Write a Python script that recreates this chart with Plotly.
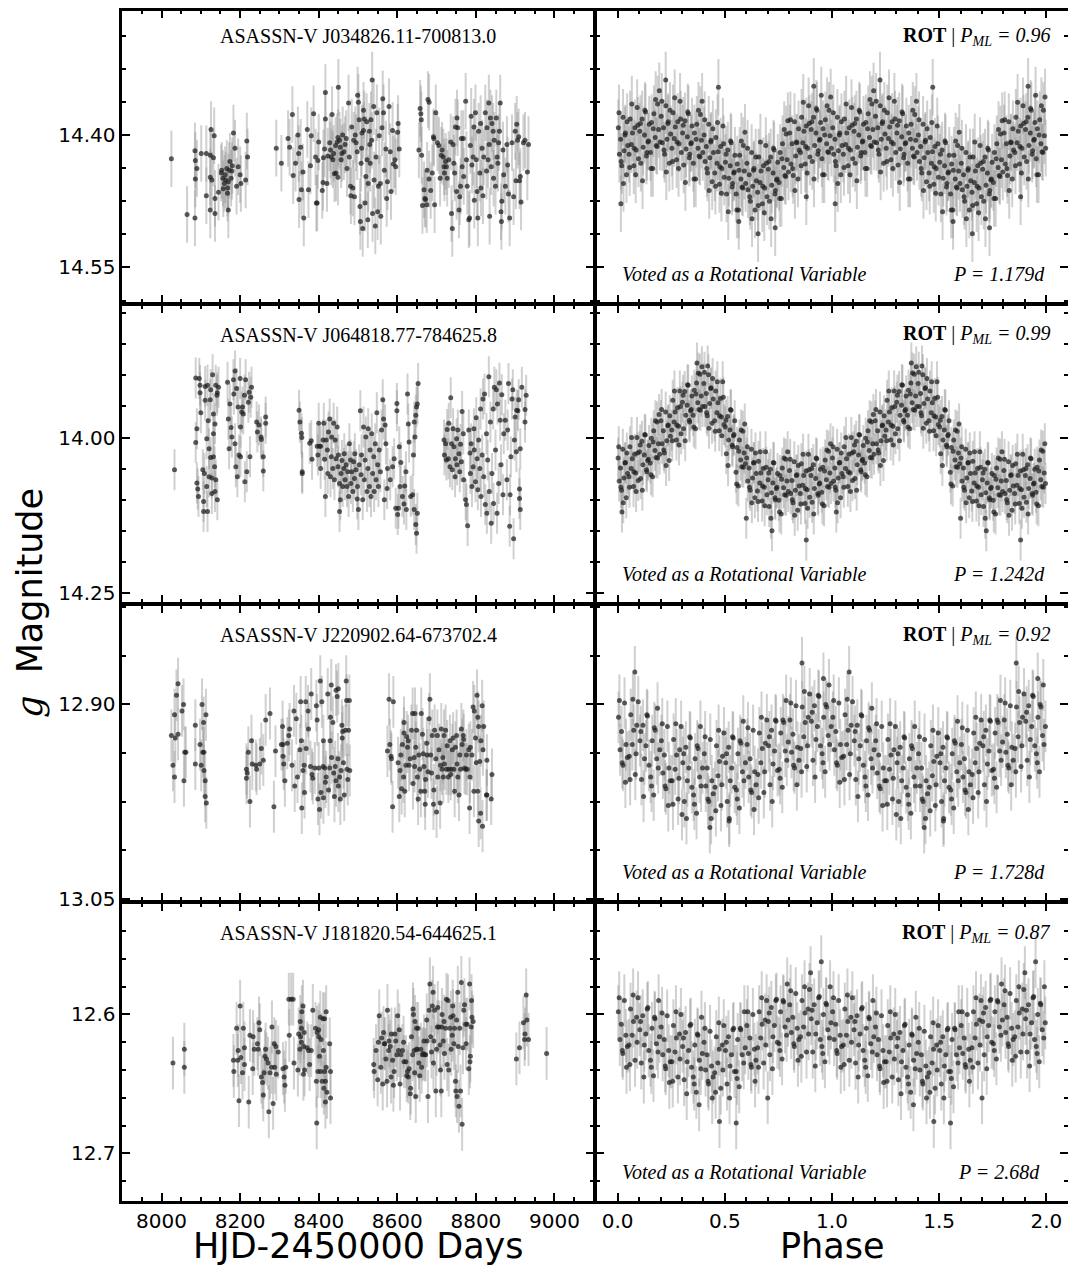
import plotly.graph_objects as go

# page offset: the HTML body has an 8px margin, so the figure is drawn 8px in
OFF = 8
W, H = 1076 - OFF, 1270 - OFF

# ---------------- Row 1 : ASASSN-V J034826.11-700813.0 ----------------
T1 = [8025, 8065, 8085, 8085, 8086, 8086, 8090, 8101, 8114, 8114,
      8124, 8124, 8124, 8126, 8128, 8132, 8134, 8136, 8136, 8145,
      8153, 8156, 8157, 8162, 8166, 8168, 8170, 8170, 8174, 8179,
      8183, 8187, 8191, 8195, 8200, 8202, 8214, 8217, 8219, 8152,
      8160, 8172, 8177, 8180, 8163, 8168,
      8292, 8305, 8322, 8326, 8333, 8335, 8341, 8347, 8349, 8350,
      8354, 8356, 8360, 8362, 8371, 8374, 8379, 8381, 8387, 8392,
      8394, 8396, 8398, 8400, 8409, 8411, 8412, 8415, 8417, 8417,
      8421, 8423, 8428, 8432, 8434, 8438, 8440, 8443, 8444, 8447,
      8449, 8450, 8453, 8455, 8457, 8461, 8464, 8467, 8472, 8476,
      8478, 8481, 8482, 8484, 8487, 8491, 8493, 8495, 8499, 8501,
      8503, 8505, 8506, 8508, 8509, 8510, 8512, 8514, 8516, 8518,
      8520, 8522, 8525, 8526, 8529, 8530, 8531, 8533, 8536, 8537,
      8540, 8541, 8544, 8546, 8548, 8550, 8552, 8554, 8557, 8558,
      8561, 8563, 8565, 8567, 8571, 8573, 8575, 8579, 8582, 8584,
      8588, 8590, 8594, 8596, 8601, 8602, 8605,
      8430, 8436, 8449, 8459, 8470, 8489, 8498, 8514, 8523, 8535,
      8655, 8658, 8660, 8661, 8662, 8664, 8668, 8670, 8672, 8675,
      8676, 8678, 8681, 8681, 8685, 8689, 8692, 8693, 8695, 8698,
      8702, 8706, 8709, 8712, 8714, 8717, 8719, 8720, 8723, 8725,
      8727, 8731, 8736, 8738, 8740, 8742, 8744, 8746, 8748, 8751,
      8752, 8754, 8757, 8759, 8761, 8763, 8765, 8768, 8769, 8774,
      8776, 8778, 8782, 8784, 8786, 8788, 8790, 8793, 8795, 8796,
      8799, 8801, 8803, 8805, 8807, 8810, 8812, 8813, 8816, 8818,
      8820, 8824, 8827, 8828, 8831, 8833, 8834, 8835, 8837, 8839,
      8841, 8844, 8845, 8847, 8850, 8852, 8854, 8856, 8858, 8860,
      8862, 8864, 8865, 8866, 8869, 8871, 8875, 8879, 8881, 8883,
      8886, 8892, 8896, 8900, 8902, 8904, 8906, 8909, 8911, 8913,
      8915, 8921, 8925, 8931, 8934]
M1 = [14.427, 14.490, 14.494, 14.418, 14.429, 14.450, 14.438, 14.421, 14.421, 14.469,
      14.423, 14.448, 14.485, 14.394, 14.451, 14.426, 14.401, 14.472, 14.489, 14.465,
      14.440, 14.449, 14.461, 14.445, 14.438, 14.466, 14.485, 14.453, 14.430, 14.441,
      14.398, 14.415, 14.458, 14.436, 14.445, 14.455, 14.451, 14.407, 14.425, 14.443,
      14.455, 14.440, 14.449, 14.435, 14.451, 14.460,
      14.415, 14.432, 14.404, 14.414, 14.377, 14.446, 14.432, 14.400, 14.421, 14.473,
      14.414, 14.462, 14.442, 14.494, 14.394, 14.462, 14.435, 14.401, 14.376, 14.425,
      14.477, 14.477, 14.429, 14.408, 14.463, 14.454, 14.426, 14.416, 14.352, 14.382,
      14.455, 14.424, 14.409, 14.425, 14.377, 14.421, 14.444, 14.412, 14.443, 14.408,
      14.448, 14.346, 14.406, 14.414, 14.428, 14.400, 14.419, 14.411, 14.438, 14.364,
      14.425, 14.458, 14.469, 14.391, 14.460, 14.470, 14.400, 14.409, 14.355, 14.363,
      14.383, 14.481, 14.498, 14.432, 14.415, 14.398, 14.506, 14.372, 14.382, 14.477,
      14.447, 14.385, 14.496, 14.455, 14.396, 14.411, 14.432, 14.383, 14.338, 14.489,
      14.368, 14.451, 14.503, 14.425, 14.375, 14.487, 14.458, 14.401, 14.455, 14.492,
      14.392, 14.359, 14.375, 14.440, 14.416, 14.472, 14.453, 14.368, 14.419, 14.464,
      14.395, 14.433, 14.428, 14.436, 14.397, 14.387, 14.416,
      14.417, 14.428, 14.403, 14.421, 14.404, 14.406, 14.419, 14.395, 14.428, 14.406,
      14.417, 14.370, 14.376, 14.383, 14.423, 14.480, 14.462, 14.472, 14.473, 14.479,
      14.440, 14.360, 14.363, 14.450, 14.463, 14.443, 14.402, 14.404, 14.479, 14.375,
      14.409, 14.412, 14.449, 14.423, 14.417, 14.425, 14.436, 14.443, 14.430, 14.436,
      14.449, 14.428, 14.408, 14.489, 14.506, 14.411, 14.432, 14.443, 14.391, 14.464,
      14.381, 14.392, 14.485, 14.470, 14.458, 14.404, 14.436, 14.404, 14.447, 14.362,
      14.428, 14.458, 14.496, 14.494, 14.412, 14.379, 14.434, 14.425, 14.391, 14.474,
      14.375, 14.428, 14.464, 14.494, 14.396, 14.443, 14.387, 14.460, 14.415, 14.469,
      14.425, 14.375, 14.441, 14.392, 14.428, 14.364, 14.411, 14.492, 14.381, 14.436,
      14.387, 14.396, 14.449, 14.406, 14.458, 14.381, 14.425, 14.432, 14.409, 14.396,
      14.364, 14.487, 14.498, 14.475, 14.417, 14.445, 14.458, 14.411, 14.434, 14.467,
      14.494, 14.409, 14.470, 14.396, 14.452, 14.388, 14.406, 14.402, 14.452, 14.447,
      14.476, 14.409, 14.406, 14.442, 14.411]
PH1 = [0.003, 0.008, 0.014, 0.019, 0.025, 0.030, 0.036, 0.041, 0.047,
       0.053, 0.058, 0.064, 0.069, 0.075, 0.080, 0.086, 0.091, 0.097,
       0.103, 0.108, 0.114, 0.119, 0.125, 0.130, 0.136, 0.141, 0.147,
       0.153, 0.158, 0.164, 0.169, 0.175, 0.180, 0.186, 0.191, 0.197,
       0.203, 0.208, 0.214, 0.219, 0.225, 0.230, 0.236, 0.241, 0.247,
       0.253, 0.258, 0.264, 0.269, 0.275, 0.280, 0.286, 0.291, 0.297,
       0.303, 0.308, 0.314, 0.319, 0.325, 0.330, 0.336, 0.341, 0.347,
       0.353, 0.358, 0.364, 0.369, 0.375, 0.380, 0.386, 0.391, 0.397,
       0.403, 0.408, 0.414, 0.419, 0.425, 0.430, 0.436, 0.441, 0.447,
       0.453, 0.458, 0.464, 0.469, 0.475, 0.480, 0.486, 0.491, 0.497,
       0.503, 0.508, 0.514, 0.519, 0.525, 0.530, 0.536, 0.541, 0.547,
       0.553, 0.558, 0.564, 0.569, 0.575, 0.580, 0.586, 0.591, 0.597,
       0.603, 0.608, 0.614, 0.619, 0.625, 0.630, 0.636, 0.641, 0.647,
       0.653, 0.658, 0.664, 0.669, 0.675, 0.680, 0.686, 0.691, 0.697,
       0.703, 0.708, 0.714, 0.719, 0.725, 0.730, 0.736, 0.741, 0.747,
       0.753, 0.758, 0.764, 0.769, 0.775, 0.780, 0.786, 0.791, 0.797,
       0.803, 0.808, 0.814, 0.819, 0.825, 0.830, 0.836, 0.841, 0.847,
       0.853, 0.858, 0.864, 0.869, 0.875, 0.880, 0.886, 0.891, 0.897,
       0.903, 0.908, 0.914, 0.919, 0.925, 0.930, 0.936, 0.941, 0.947,
       0.953, 0.958, 0.964, 0.969, 0.975, 0.980, 0.986, 0.991, 0.997,
       0.224, 0.470, 0.915, 0.950, 0.655, 0.735, 0.015, 0.565, 0.880,
       0.006, 0.016, 0.027, 0.034, 0.044, 0.056, 0.066, 0.077, 0.084, 0.094,
       0.106, 0.116, 0.127, 0.134, 0.144, 0.156, 0.166, 0.177, 0.184, 0.194,
       0.206, 0.216, 0.227, 0.234, 0.244, 0.256, 0.266, 0.277, 0.284, 0.294,
       0.306, 0.316, 0.327, 0.334, 0.344, 0.356, 0.366, 0.377, 0.384, 0.394,
       0.406, 0.416, 0.427, 0.434, 0.444, 0.456, 0.466, 0.477, 0.484, 0.494,
       0.506, 0.516, 0.527, 0.534, 0.544, 0.556, 0.566, 0.577, 0.584, 0.594,
       0.606, 0.616, 0.627, 0.634, 0.644, 0.656, 0.666, 0.677, 0.684, 0.694,
       0.706, 0.716, 0.727, 0.734, 0.744, 0.756, 0.766, 0.777, 0.784, 0.794,
       0.806, 0.816, 0.827, 0.834, 0.844, 0.856, 0.866, 0.877, 0.884, 0.894,
       0.906, 0.916, 0.927, 0.934, 0.944, 0.956, 0.966, 0.977, 0.984, 0.994]
PM1 = [14.392, 14.422, 14.405, 14.435, 14.380, 14.418, 14.398, 14.445, 14.412,
       14.422, 14.382, 14.411, 14.398, 14.435, 14.392, 14.417, 14.369, 14.427,
       14.396, 14.432, 14.382, 14.414, 14.400, 14.374, 14.420, 14.408, 14.388,
       14.420, 14.386, 14.438, 14.376, 14.403, 14.412, 14.365, 14.394, 14.408,
       14.379, 14.409, 14.392, 14.422, 14.367, 14.405, 14.385, 14.432, 14.399,
       14.415, 14.375, 14.404, 14.391, 14.428, 14.385, 14.410, 14.362, 14.420,
       14.398, 14.434, 14.384, 14.416, 14.402, 14.376, 14.422, 14.410, 14.390,
       14.432, 14.398, 14.450, 14.388, 14.415, 14.424, 14.377, 14.406, 14.420,
       14.400, 14.430, 14.413, 14.443, 14.388, 14.426, 14.406, 14.453, 14.420,
       14.443, 14.403, 14.432, 14.419, 14.456, 14.413, 14.438, 14.390, 14.448,
       14.431, 14.467, 14.417, 14.449, 14.435, 14.409, 14.455, 14.443, 14.423,
       14.467, 14.433, 14.485, 14.423, 14.450, 14.459, 14.412, 14.441, 14.455,
       14.432, 14.462, 14.445, 14.475, 14.420, 14.458, 14.438, 14.485, 14.452,
       14.465, 14.425, 14.454, 14.441, 14.478, 14.435, 14.460, 14.412, 14.470,
       14.439, 14.475, 14.425, 14.457, 14.443, 14.417, 14.463, 14.451, 14.431,
       14.454, 14.420, 14.472, 14.410, 14.437, 14.446, 14.399, 14.428, 14.442,
       14.398, 14.433, 14.410, 14.446, 14.385, 14.424, 14.409, 14.450, 14.417,
       14.420, 14.380, 14.409, 14.396, 14.433, 14.390, 14.415, 14.367, 14.425,
       14.394, 14.430, 14.380, 14.412, 14.398, 14.372, 14.418, 14.406, 14.386,
       14.427, 14.393, 14.445, 14.383, 14.410, 14.419, 14.372, 14.401, 14.415,
       14.338, 14.346, 14.345, 14.355, 14.512, 14.505, 14.478, 14.498, 14.470,
       14.375, 14.430, 14.455, 14.400, 14.385, 14.437, 14.365, 14.415, 14.445, 14.389,
       14.387, 14.452, 14.372, 14.424, 14.407, 14.438, 14.393, 14.360, 14.413, 14.350,
       14.362, 14.417, 14.442, 14.387, 14.372, 14.430, 14.358, 14.408, 14.438, 14.382,
       14.389, 14.454, 14.374, 14.426, 14.409, 14.450, 14.405, 14.372, 14.425, 14.362,
       14.383, 14.438, 14.463, 14.408, 14.393, 14.458, 14.386, 14.436, 14.466, 14.410,
       14.422, 14.487, 14.407, 14.459, 14.442, 14.485, 14.440, 14.407, 14.460, 14.397,
       14.415, 14.470, 14.495, 14.440, 14.425, 14.480, 14.408, 14.458, 14.488, 14.432,
       14.430, 14.495, 14.415, 14.467, 14.450, 14.472, 14.427, 14.394, 14.447, 14.384,
       14.383, 14.438, 14.463, 14.408, 14.393, 14.435, 14.363, 14.413, 14.443, 14.387,
       14.385, 14.450, 14.370, 14.422, 14.405, 14.445, 14.400, 14.367, 14.420, 14.357]

# ---------------- Row 2 : ASASSN-V J064818.77-784625.8 ----------------
T2 = [8033, 8087, 8090, 8087, 8090, 8092, 8094, 8096, 8098, 8098,
      8100, 8105, 8107, 8107, 8109, 8111, 8111, 8115, 8115, 8117,
      8117, 8119, 8121, 8121, 8124, 8125, 8125, 8128, 8128, 8130,
      8132, 8132, 8132, 8135, 8136, 8136, 8138, 8138, 8141, 8142,
      8142, 8145, 8168, 8170, 8172, 8174, 8177, 8179, 8183, 8184,
      8187, 8187, 8189, 8191, 8193, 8195, 8197, 8200, 8201, 8201,
      8204, 8206, 8208, 8211, 8212, 8214, 8217, 8221, 8223, 8225,
      8227, 8229, 8242, 8244, 8248, 8253, 8254, 8259, 8259, 8265,
      8265,
      8350, 8352, 8356, 8357, 8358, 8358, 8377, 8381, 8383, 8396,
      8398, 8400, 8402, 8405, 8405, 8411, 8413, 8415, 8417, 8419,
      8422, 8423, 8425, 8428, 8430, 8432, 8433, 8436, 8438, 8440,
      8442, 8444, 8447, 8449, 8450, 8453, 8453, 8455, 8457, 8459,
      8461, 8464, 8465, 8467, 8470, 8472, 8474, 8476, 8478, 8481,
      8482, 8484, 8487, 8489, 8491, 8492, 8495, 8498, 8499, 8501,
      8503, 8506, 8508, 8509, 8512, 8514, 8516, 8518, 8520, 8523,
      8525, 8526, 8529, 8531, 8533, 8535, 8537, 8540, 8541, 8544,
      8546, 8548, 8550, 8552, 8554, 8557, 8560, 8563, 8565, 8567,
      8569, 8571, 8574, 8575, 8582, 8588, 8592, 8596, 8599, 8599,
      8601, 8603, 8605, 8607, 8609, 8613, 8617, 8619, 8622, 8623,
      8626, 8628, 8630, 8634, 8639, 8641, 8643, 8643, 8645, 8647,
      8649, 8649, 8651, 8653, 8651, 8647,
      8719, 8720, 8723, 8725, 8727, 8730, 8731, 8734, 8736, 8738,
      8740, 8742, 8744, 8747, 8748, 8751, 8752, 8754, 8757, 8759,
      8761, 8763, 8765, 8768, 8769, 8774, 8776, 8779, 8782, 8785,
      8786, 8788, 8790, 8793, 8795, 8796, 8799, 8801, 8803, 8805,
      8807, 8810, 8812, 8813, 8816, 8818, 8820, 8822, 8824, 8827,
      8828, 8830, 8833, 8834, 8837, 8839, 8841, 8844, 8845, 8847,
      8850, 8852, 8854, 8855, 8858, 8860, 8862, 8864, 8866, 8869,
      8871, 8875, 8879, 8881, 8883, 8886, 8887, 8889, 8892, 8894,
      8896, 8898, 8900, 8903, 8904, 8907, 8909, 8911, 8911, 8913,
      8913, 8917, 8925, 8925, 8928]
M2 = [14.052, 13.904, 13.986, 14.008, 14.073, 14.083, 14.095, 13.905, 13.916, 13.928,
      13.960, 14.052, 14.103, 14.119, 14.058, 13.918, 13.940, 14.079, 14.002, 14.119,
      13.916, 13.973, 14.018, 14.063, 13.939, 14.032, 13.923, 14.090, 14.065, 13.899,
      13.962, 14.031, 13.994, 14.047, 13.978, 14.087, 13.916, 14.068, 13.932, 14.100,
      13.928, 13.919, 13.911, 13.970, 14.018, 13.946, 13.984, 13.999, 13.907, 13.930,
      13.893, 14.010, 14.047, 13.921, 14.063, 13.951, 14.028, 13.905, 14.031, 13.983,
      13.959, 13.951, 13.962, 13.932, 14.071, 13.907, 14.055, 13.943, 13.927, 14.031,
      13.935, 13.919, 13.975, 13.991, 13.980, 13.999, 14.003, 14.054, 14.031, 13.977,
      13.967,
      13.956, 13.975, 13.993, 14.000, 14.055, 14.058, 14.009, 14.005, 14.035, 14.014,
      14.028, 13.977, 14.014, 14.050, 14.014, 14.004, 13.977, 14.035, 14.095, 14.004,
      14.020, 14.058, 13.991, 13.970, 14.063, 14.031, 13.999, 14.050, 13.977, 14.068,
      14.004, 14.034, 13.983, 14.047, 14.028, 14.119, 14.074, 14.100, 14.058, 14.037,
      14.079, 14.050, 14.026, 14.068, 14.044, 14.079, 14.055, 14.095, 14.010, 14.036,
      14.074, 14.055, 14.087, 14.039, 14.066, 14.026, 14.052, 14.099, 14.079, 14.116,
      14.044, 13.957, 14.060, 14.028, 14.100, 13.983, 14.068, 14.036, 13.999, 14.087,
      14.050, 13.986, 14.079, 14.020, 14.095, 13.994, 14.058, 14.031, 14.087, 14.010,
      14.068, 13.960, 14.044, 14.079, 14.020, 14.055, 13.988, 13.939, 13.970, 14.100,
      13.980, 14.010, 14.082, 14.050, 14.068, 14.047, 14.034, 14.114, 13.945, 13.957,
      14.124, 14.114, 14.015, 14.079, 14.040, 14.095, 14.107, 14.078, 14.055, 14.116,
      13.930, 13.978, 14.007, 14.095, 14.092, 14.028, 13.975, 14.116, 13.999, 14.140,
      13.951, 14.154, 13.946, 13.913, 14.122, 13.964,
      14.004, 14.028, 14.010, 14.036, 13.987, 14.034, 13.977, 14.047, 13.936, 14.010,
      14.052, 13.986, 14.015, 14.063, 14.034, 14.002, 14.044, 13.988, 14.026, 14.055,
      14.011, 14.039, 13.958, 13.994, 14.068, 14.100, 14.108, 14.142, 13.988, 14.025,
      14.058, 14.010, 14.079, 14.047, 13.986, 14.020, 14.071, 13.968, 14.034, 14.084,
      14.004, 14.050, 13.954, 14.095, 14.028, 13.938, 14.063, 13.930, 14.108, 13.994,
      14.122, 14.036, 13.902, 14.087, 13.975, 14.138, 14.058, 13.954, 14.106, 13.919,
      14.020, 13.923, 14.122, 13.946, 14.074, 13.912, 13.972, 14.044, 13.931, 14.092,
      13.994, 13.972, 14.068, 13.988, 13.913, 14.143, 14.092, 14.031, 13.938, 13.923,
      14.163, 14.004, 13.967, 14.023, 13.956, 13.957, 13.939, 14.098, 14.083, 14.116,
      14.018, 13.919, 13.955, 13.975, 13.932]
PH2 = [0.002, 0.007, 0.013, 0.018, 0.024, 0.029, 0.034, 0.040, 0.046,
       0.052, 0.057, 0.063, 0.068, 0.074, 0.079, 0.084, 0.090, 0.096,
       0.102, 0.107, 0.113, 0.118, 0.124, 0.129, 0.134, 0.140, 0.146,
       0.152, 0.157, 0.163, 0.168, 0.174, 0.179, 0.184, 0.190, 0.196,
       0.202, 0.207, 0.213, 0.218, 0.224, 0.229, 0.234, 0.240, 0.246,
       0.252, 0.257, 0.263, 0.268, 0.274, 0.279, 0.284, 0.290, 0.296,
       0.302, 0.307, 0.313, 0.318, 0.324, 0.329, 0.334, 0.340, 0.346,
       0.352, 0.357, 0.363, 0.368, 0.374, 0.379, 0.384, 0.390, 0.396,
       0.402, 0.407, 0.413, 0.418, 0.424, 0.429, 0.434, 0.440, 0.446,
       0.452, 0.457, 0.463, 0.468, 0.474, 0.479, 0.484, 0.490, 0.496,
       0.502, 0.507, 0.513, 0.518, 0.524, 0.529, 0.534, 0.540, 0.546,
       0.552, 0.557, 0.563, 0.568, 0.574, 0.579, 0.584, 0.590, 0.596,
       0.602, 0.607, 0.613, 0.618, 0.624, 0.629, 0.634, 0.640, 0.646,
       0.652, 0.657, 0.663, 0.668, 0.674, 0.679, 0.684, 0.690, 0.696,
       0.702, 0.707, 0.713, 0.718, 0.724, 0.729, 0.734, 0.740, 0.746,
       0.752, 0.757, 0.763, 0.768, 0.774, 0.779, 0.784, 0.790, 0.796,
       0.802, 0.807, 0.813, 0.818, 0.824, 0.829, 0.834, 0.840, 0.846,
       0.852, 0.857, 0.863, 0.868, 0.874, 0.879, 0.884, 0.890, 0.896,
       0.902, 0.907, 0.913, 0.918, 0.924, 0.929, 0.934, 0.940, 0.946,
       0.952, 0.957, 0.963, 0.968, 0.974, 0.979, 0.984, 0.990, 0.996,
       0.880, 0.720, 0.370, 0.420, 0.020, 0.600,
       0.005, 0.015, 0.026, 0.036, 0.043, 0.055, 0.065, 0.076, 0.086, 0.093,
       0.105, 0.115, 0.126, 0.136, 0.143, 0.155, 0.165, 0.176, 0.186, 0.193,
       0.205, 0.215, 0.226, 0.236, 0.243, 0.255, 0.265, 0.276, 0.286, 0.293,
       0.305, 0.315, 0.326, 0.336, 0.343, 0.355, 0.365, 0.376, 0.386, 0.393,
       0.405, 0.415, 0.426, 0.436, 0.443, 0.455, 0.465, 0.476, 0.486, 0.493,
       0.505, 0.515, 0.526, 0.536, 0.543, 0.555, 0.565, 0.576, 0.586, 0.593,
       0.605, 0.615, 0.626, 0.636, 0.643, 0.655, 0.665, 0.676, 0.686, 0.693,
       0.705, 0.715, 0.726, 0.736, 0.743, 0.755, 0.765, 0.776, 0.786, 0.793,
       0.805, 0.815, 0.826, 0.836, 0.843, 0.855, 0.865, 0.876, 0.886, 0.893,
       0.905, 0.915, 0.926, 0.936, 0.943, 0.955, 0.965, 0.976, 0.986, 0.993]
PM2 = [14.033, 14.070, 14.049, 14.085, 14.019, 14.065, 14.041, 14.097, 14.058,
       14.063, 14.015, 14.050, 14.034, 14.079, 14.027, 14.057, 14.000, 14.069,
       14.023, 14.066, 14.006, 14.044, 14.028, 13.996, 14.052, 14.037, 14.013,
       14.041, 14.001, 14.063, 13.989, 14.021, 14.032, 13.975, 14.010, 14.027,
       13.973, 14.010, 13.989, 14.025, 13.959, 14.005, 13.981, 14.037, 13.998,
       13.988, 13.940, 13.975, 13.959, 14.004, 13.952, 13.982, 13.925, 13.994,
       13.943, 13.986, 13.926, 13.964, 13.948, 13.916, 13.972, 13.957, 13.933,
       13.964, 13.924, 13.986, 13.912, 13.944, 13.955, 13.898, 13.933, 13.950,
       13.913, 13.950, 13.929, 13.965, 13.899, 13.945, 13.921, 13.977, 13.938,
       13.973, 13.925, 13.960, 13.944, 13.989, 13.937, 13.967, 13.910, 13.979,
       13.983, 14.026, 13.966, 14.004, 13.988, 13.956, 14.012, 13.997, 13.973,
       14.056, 14.016, 14.078, 14.004, 14.036, 14.047, 13.990, 14.025, 14.042,
       14.033, 14.070, 14.049, 14.085, 14.019, 14.065, 14.041, 14.097, 14.058,
       14.086, 14.038, 14.073, 14.057, 14.102, 14.050, 14.080, 14.023, 14.092,
       14.068, 14.111, 14.051, 14.089, 14.073, 14.041, 14.097, 14.082, 14.058,
       14.101, 14.061, 14.123, 14.049, 14.081, 14.092, 14.035, 14.070, 14.087,
       14.053, 14.090, 14.069, 14.105, 14.039, 14.085, 14.061, 14.117, 14.078,
       14.090, 14.042, 14.077, 14.061, 14.106, 14.054, 14.084, 14.027, 14.096,
       14.061, 14.104, 14.044, 14.082, 14.066, 14.034, 14.090, 14.075, 14.051,
       14.088, 14.048, 14.110, 14.036, 14.068, 14.079, 14.022, 14.057, 14.074,
       14.165, 14.150, 13.880, 13.885, 14.120, 14.130,
       14.015, 14.080, 14.105, 14.040, 14.025, 14.080, 14.000, 14.055, 14.087, 14.025,
       14.012, 14.085, 13.995, 14.055, 14.035, 14.060, 14.007, 13.973, 14.033, 13.963,
       13.955, 14.020, 14.045, 13.980, 13.965, 14.005, 13.925, 13.980, 14.012, 13.950,
       13.932, 14.005, 13.915, 13.975, 13.955, 13.983, 13.930, 13.896, 13.956, 13.886,
       13.895, 13.960, 13.985, 13.920, 13.905, 13.990, 13.910, 13.965, 13.997, 13.935,
       13.972, 14.045, 13.955, 14.015, 13.995, 14.075, 14.022, 13.988, 14.048, 13.978,
       14.015, 14.080, 14.105, 14.040, 14.025, 14.103, 14.023, 14.078, 14.110, 14.048,
       14.057, 14.130, 14.040, 14.100, 14.080, 14.120, 14.067, 14.033, 14.093, 14.023,
       14.035, 14.100, 14.125, 14.060, 14.045, 14.107, 14.027, 14.082, 14.114, 14.052,
       14.050, 14.123, 14.033, 14.093, 14.073, 14.107, 14.054, 14.020, 14.080, 14.010]

# ---------------- Row 3 : ASASSN-V J220902.64-673702.4 ----------------
T3 = [8025, 8029, 8033, 8033, 8035, 8038, 8042, 8042, 8052, 8056,
      8057, 8059, 8062, 8086, 8086, 8098, 8101, 8103, 8105, 8107,
      8108, 8108, 8111, 8111, 8113, 8114,
      8216, 8216, 8218, 8221, 8225, 8229, 8231, 8240, 8242, 8250,
      8254, 8259, 8265, 8276, 8286, 8290, 8305, 8308, 8309, 8311,
      8309, 8314, 8320, 8324, 8326, 8332, 8337, 8339, 8343, 8346,
      8352, 8354, 8356, 8357, 8360, 8363, 8364, 8367, 8368, 8373,
      8374, 8379, 8381, 8383, 8385, 8390, 8394, 8396, 8398, 8400,
      8402, 8404, 8406, 8408, 8411, 8412, 8412, 8415, 8417, 8419,
      8423, 8425, 8428, 8429, 8430, 8432, 8433, 8436, 8438, 8440,
      8442, 8444, 8444, 8447, 8449, 8450, 8450, 8453, 8455, 8457,
      8459, 8460, 8461, 8463, 8465, 8468, 8470, 8471, 8472, 8474,
      8476, 8478, 8479,
      8575, 8579, 8581, 8584, 8585, 8588, 8590, 8602, 8605, 8607,
      8609, 8611, 8613, 8616, 8617, 8617, 8619, 8622, 8624, 8626,
      8628, 8630, 8633, 8636, 8639, 8640, 8643, 8644, 8645, 8647,
      8649, 8651, 8653, 8655, 8657, 8660, 8661, 8664, 8666, 8668,
      8670, 8671, 8672, 8675, 8676, 8678, 8681, 8683, 8685, 8687,
      8689, 8692, 8693, 8695, 8698, 8700, 8702, 8703, 8706, 8709,
      8710, 8712, 8714, 8716, 8717, 8719, 8720, 8723, 8725, 8727,
      8730, 8731, 8734, 8736, 8737, 8740, 8742, 8744, 8746, 8748,
      8751, 8752, 8754, 8757, 8759, 8761, 8763, 8765, 8768, 8769,
      8771, 8774, 8776, 8778, 8782, 8784, 8785, 8786, 8790, 8793,
      8795, 8796, 8799, 8801, 8803, 8805, 8805, 8807, 8807, 8810,
      8812, 8813, 8816, 8817, 8818, 8820, 8827, 8828, 8828, 8839,
      8841]
M3 = [12.924, 12.947, 12.908, 12.956, 12.926, 12.893, 12.884, 12.923, 12.905, 12.900,
      12.959, 12.937, 12.937, 12.916, 12.946, 12.931, 12.947, 12.900, 12.937, 12.914,
      12.951, 12.937, 12.959, 12.971, 12.908, 12.976,
      12.950, 12.957, 12.953, 12.937, 12.975, 12.928, 12.946, 12.947, 12.950, 12.946,
      12.934, 12.943, 12.912, 12.907, 12.979, 12.936, 12.931, 12.917, 12.940, 12.946,
      12.931, 12.959, 12.930, 12.924, 12.919, 12.947, 12.905, 12.963, 12.911, 12.956,
      12.935, 12.898, 12.928, 12.980, 12.951, 12.947, 12.968, 12.898, 12.934, 12.905,
      12.919, 12.948, 12.892, 12.954, 12.957, 12.949, 12.901, 12.912, 12.973, 12.949,
      12.981, 12.882, 12.968, 12.898, 12.948, 12.972, 12.928, 12.949, 12.960, 12.956,
      12.892, 12.966, 12.949, 12.928, 12.910, 12.885, 12.941, 12.914, 12.953, 12.971,
      12.948, 12.889, 12.959, 12.894, 12.942, 12.888, 12.963, 12.956, 12.973, 12.951,
      12.916, 12.926, 12.921, 12.945, 12.970, 12.920, 12.882, 12.897, 12.950, 12.958,
      12.920, 12.897, 12.951,
      12.936, 12.896, 12.931, 12.940, 12.942, 12.979, 12.898, 12.945, 12.971, 12.951,
      12.939, 12.965, 12.931, 12.956, 12.922, 12.914, 12.967, 12.947, 12.925, 12.933,
      12.928, 12.947, 12.942, 12.920, 12.907, 12.961, 12.941, 12.948, 12.907, 12.933,
      12.920, 12.956, 12.973, 12.939, 12.950, 12.967, 12.907, 12.923, 12.938, 12.948,
      12.967, 12.977, 12.958, 12.930, 12.939, 12.952, 12.911, 12.896, 12.939, 12.953,
      12.924, 12.977, 12.966, 12.920, 12.942, 12.983, 12.924, 12.956, 12.935, 12.976,
      12.947, 12.919, 12.950, 12.941, 12.956, 12.924, 12.946, 12.920, 12.950, 12.932,
      12.956, 12.950, 12.928, 12.954, 12.950, 12.935, 12.926, 12.950, 12.967, 12.933,
      12.924, 12.946, 12.956, 12.970, 12.939, 12.950, 12.919, 12.931, 12.924, 12.927,
      12.949, 12.950, 12.939, 12.950, 12.935, 12.980, 12.956, 12.933, 12.939, 12.902,
      12.967, 12.905, 12.926, 12.945, 12.893, 12.910, 12.967, 12.917, 12.990, 12.944,
      12.984, 12.928, 12.901, 12.994, 12.935, 12.917, 12.970, 12.970, 12.943, 12.973,
      12.954]
PH3 = [0.004, 0.011, 0.018, 0.025, 0.032, 0.039, 0.046,
       0.054, 0.061, 0.068, 0.075, 0.082, 0.089, 0.096,
       0.104, 0.111, 0.118, 0.125, 0.132, 0.139, 0.146,
       0.154, 0.161, 0.168, 0.175, 0.182, 0.189, 0.196,
       0.204, 0.211, 0.218, 0.225, 0.232, 0.239, 0.246,
       0.254, 0.261, 0.268, 0.275, 0.282, 0.289, 0.296,
       0.304, 0.311, 0.318, 0.325, 0.332, 0.339, 0.346,
       0.354, 0.361, 0.368, 0.375, 0.382, 0.389, 0.396,
       0.404, 0.411, 0.418, 0.425, 0.432, 0.439, 0.446,
       0.454, 0.461, 0.468, 0.475, 0.482, 0.489, 0.496,
       0.504, 0.511, 0.518, 0.525, 0.532, 0.539, 0.546,
       0.554, 0.561, 0.568, 0.575, 0.582, 0.589, 0.596,
       0.604, 0.611, 0.618, 0.625, 0.632, 0.639, 0.646,
       0.654, 0.661, 0.668, 0.675, 0.682, 0.689, 0.696,
       0.704, 0.711, 0.718, 0.725, 0.732, 0.739, 0.746,
       0.754, 0.761, 0.768, 0.775, 0.782, 0.789, 0.796,
       0.804, 0.811, 0.818, 0.825, 0.832, 0.839, 0.846,
       0.854, 0.861, 0.868, 0.875, 0.882, 0.889, 0.896,
       0.904, 0.911, 0.918, 0.925, 0.932, 0.939, 0.946,
       0.954, 0.961, 0.968, 0.975, 0.982, 0.989, 0.996,
       0.860, 0.430, 0.300, 0.960, 0.520, 0.080,
       0.008, 0.021, 0.036, 0.058, 0.071, 0.086, 0.108, 0.121, 0.136,
       0.158, 0.171, 0.186, 0.208, 0.221, 0.236, 0.258, 0.271, 0.286,
       0.308, 0.321, 0.336, 0.358, 0.371, 0.386, 0.408, 0.421, 0.436,
       0.458, 0.471, 0.486, 0.508, 0.521, 0.536, 0.558, 0.571, 0.586,
       0.608, 0.621, 0.636, 0.658, 0.671, 0.686, 0.708, 0.721, 0.736,
       0.758, 0.771, 0.786, 0.808, 0.821, 0.836, 0.858, 0.871, 0.886,
       0.908, 0.921, 0.936, 0.958, 0.971, 0.986]
PM3 = [12.910, 12.935, 12.921, 12.947, 12.899, 12.931, 12.941,
       12.940, 12.908, 12.931, 12.920, 12.954, 12.916, 12.898,
       12.928, 12.958, 12.916, 12.942, 12.932, 12.909, 12.947,
       12.956, 12.928, 12.970, 12.920, 12.942, 12.949, 12.935,
       12.928, 12.953, 12.939, 12.965, 12.917, 12.949, 12.959,
       12.959, 12.927, 12.950, 12.939, 12.973, 12.935, 12.917,
       12.945, 12.975, 12.933, 12.959, 12.949, 12.926, 12.964,
       12.970, 12.942, 12.984, 12.934, 12.956, 12.963, 12.949,
       12.938, 12.963, 12.949, 12.975, 12.927, 12.959, 12.969,
       12.964, 12.932, 12.955, 12.944, 12.978, 12.940, 12.922,
       12.945, 12.975, 12.933, 12.959, 12.949, 12.926, 12.964,
       12.966, 12.938, 12.980, 12.930, 12.952, 12.959, 12.945,
       12.931, 12.956, 12.942, 12.968, 12.920, 12.952, 12.962,
       12.954, 12.922, 12.945, 12.934, 12.968, 12.930, 12.912,
       12.932, 12.962, 12.920, 12.946, 12.936, 12.913, 12.951,
       12.950, 12.922, 12.964, 12.914, 12.936, 12.943, 12.929,
       12.912, 12.937, 12.923, 12.949, 12.901, 12.933, 12.943,
       12.934, 12.902, 12.925, 12.914, 12.948, 12.910, 12.892,
       12.913, 12.943, 12.901, 12.927, 12.917, 12.894, 12.932,
       12.938, 12.910, 12.952, 12.902, 12.924, 12.931, 12.917,
       12.868, 12.995, 12.985, 12.880, 12.990, 12.875,
       12.897, 12.945, 12.960, 12.958, 12.896, 12.938, 12.921, 12.971, 12.908,
       12.963, 12.918, 12.903, 12.915, 12.963, 12.978, 12.977, 12.915, 12.957,
       12.938, 12.988, 12.925, 12.977, 12.932, 12.917, 12.925, 12.973, 12.988,
       12.982, 12.920, 12.962, 12.938, 12.988, 12.925, 12.973, 12.928, 12.913,
       12.918, 12.966, 12.981, 12.972, 12.910, 12.952, 12.925, 12.975, 12.912,
       12.957, 12.912, 12.897, 12.899, 12.947, 12.962, 12.952, 12.890, 12.932,
       12.906, 12.956, 12.893, 12.945, 12.900, 12.885]

# ---------------- Row 4 : ASASSN-V J181820.54-644625.1 ----------------
T4 = [8029, 8058, 8058, 8183, 8184, 8191, 8194, 8195, 8197, 8200,
      8202, 8206, 8208, 8211, 8211, 8222, 8225, 8232, 8233, 8236,
      8244, 8246, 8248, 8250, 8254, 8257, 8259, 8261, 8263, 8265,
      8267, 8271, 8273, 8276, 8280, 8281, 8284, 8287, 8288, 8291,
      8292, 8297, 8309, 8312, 8314, 8316, 8324, 8325, 8330, 8335,
      8337, 8347, 8349, 8352, 8353, 8354, 8356, 8356, 8357, 8360,
      8361, 8362, 8363, 8364, 8371, 8374, 8377, 8381, 8385, 8392,
      8394, 8395, 8396, 8398, 8400, 8400, 8402, 8404, 8405, 8406,
      8409, 8411, 8412, 8413, 8415, 8415, 8417, 8417, 8419, 8419,
      8421, 8428, 8430, 8430,
      8540, 8541, 8546, 8550, 8552, 8554, 8558, 8560, 8563, 8565,
      8567, 8568, 8571, 8574, 8575, 8578, 8579, 8582, 8584, 8585,
      8588, 8590, 8592, 8594, 8596, 8599, 8601, 8603, 8605, 8607,
      8609, 8613, 8616, 8617, 8622, 8624, 8626, 8628, 8630, 8633,
      8634, 8636, 8639, 8640, 8641, 8643, 8644, 8645, 8647, 8649,
      8649, 8651, 8653, 8655, 8657, 8660, 8662, 8664, 8666, 8668,
      8670, 8672, 8675, 8676, 8678, 8681, 8683, 8685, 8687, 8689,
      8691, 8692, 8693, 8695, 8698, 8700, 8702, 8703, 8706, 8709,
      8710, 8712, 8713, 8714, 8717, 8719, 8720, 8723, 8725, 8727,
      8729, 8731, 8734, 8736, 8737, 8740, 8741, 8742, 8744, 8746,
      8748, 8749, 8751, 8752, 8754, 8755, 8757, 8759, 8761, 8763,
      8765, 8767, 8769, 8771, 8774, 8775, 8778, 8782, 8784, 8785,
      8786, 8788, 8789, 8790, 8793,
      8903, 8911, 8921, 8924, 8925, 8928, 8930, 8934, 8980]
M4 = [12.635, 12.625, 12.638, 12.633, 12.641, 12.610, 12.633, 12.626, 12.662, 12.594,
      12.631, 12.642, 12.610, 12.624, 12.636, 12.663, 12.615, 12.639, 12.616, 12.625,
      12.621, 12.625, 12.606, 12.611, 12.645, 12.649, 12.658, 12.642, 12.630, 12.625,
      12.632, 12.635, 12.670, 12.642, 12.638, 12.609, 12.664, 12.621, 12.638, 12.623,
      12.643, 12.627, 12.639, 12.645, 12.651, 12.638, 12.589, 12.615, 12.589, 12.589,
      12.635, 12.640, 12.614, 12.625, 12.605, 12.616, 12.610, 12.620, 12.598, 12.594,
      12.643, 12.623, 12.613, 12.640, 12.624, 12.626, 12.636, 12.626, 12.597, 12.610,
      12.648, 12.678, 12.613, 12.641, 12.611, 12.616, 12.630, 12.602, 12.641, 12.618,
      12.648, 12.603, 12.626, 12.653, 12.603, 12.641, 12.663, 12.648, 12.598, 12.638,
      12.656, 12.621, 12.641, 12.660,
      12.636, 12.641, 12.626, 12.647, 12.620, 12.601, 12.638, 12.617, 12.650, 12.613,
      12.621, 12.621, 12.632, 12.648, 12.597, 12.626, 12.619, 12.623, 12.645, 12.614,
      12.633, 12.651, 12.641, 12.614, 12.619, 12.629, 12.601, 12.626, 12.611, 12.650,
      12.629, 12.626, 12.620, 12.634, 12.634, 12.644, 12.641, 12.645, 12.639, 12.657,
      12.653, 12.616, 12.629, 12.596, 12.600, 12.626, 12.642, 12.605, 12.659, 12.625,
      12.610, 12.625, 12.610, 12.635, 12.644, 12.625, 12.638, 12.629, 12.628, 12.619,
      12.629, 12.629, 12.604, 12.619, 12.659, 12.597, 12.578, 12.616, 12.627, 12.594,
      12.584, 12.635, 12.619, 12.597, 12.655, 12.625, 12.609, 12.595, 12.609, 12.622,
      12.640, 12.655, 12.609, 12.600, 12.619, 12.605, 12.628, 12.610, 12.589, 12.636,
      12.590, 12.640, 12.610, 12.602, 12.625, 12.615, 12.594, 12.601, 12.621, 12.610,
      12.648, 12.655, 12.604, 12.659, 12.584, 12.623, 12.666, 12.610, 12.655, 12.577,
      12.679, 12.624, 12.597, 12.593, 12.607, 12.621, 12.607, 12.639, 12.578, 12.634,
      12.630, 12.609, 12.590, 12.602, 12.605,
      12.632, 12.624, 12.606, 12.618, 12.614, 12.586, 12.604, 12.618, 12.628]
PH4 = [0.003, 0.010, 0.017, 0.024, 0.031, 0.038, 0.045,
       0.053, 0.060, 0.067, 0.074, 0.081, 0.088, 0.095,
       0.103, 0.110, 0.117, 0.124, 0.131, 0.138, 0.145,
       0.153, 0.160, 0.167, 0.174, 0.181, 0.188, 0.195,
       0.203, 0.210, 0.217, 0.224, 0.231, 0.238, 0.245,
       0.253, 0.260, 0.267, 0.274, 0.281, 0.288, 0.295,
       0.303, 0.310, 0.317, 0.324, 0.331, 0.338, 0.345,
       0.353, 0.360, 0.367, 0.374, 0.381, 0.388, 0.395,
       0.403, 0.410, 0.417, 0.424, 0.431, 0.438, 0.445,
       0.453, 0.460, 0.467, 0.474, 0.481, 0.488, 0.495,
       0.503, 0.510, 0.517, 0.524, 0.531, 0.538, 0.545,
       0.553, 0.560, 0.567, 0.574, 0.581, 0.588, 0.595,
       0.603, 0.610, 0.617, 0.624, 0.631, 0.638, 0.645,
       0.653, 0.660, 0.667, 0.674, 0.681, 0.688, 0.695,
       0.703, 0.710, 0.717, 0.724, 0.731, 0.738, 0.745,
       0.753, 0.760, 0.767, 0.774, 0.781, 0.788, 0.795,
       0.803, 0.810, 0.817, 0.824, 0.831, 0.838, 0.845,
       0.853, 0.860, 0.867, 0.874, 0.881, 0.888, 0.895,
       0.903, 0.910, 0.917, 0.924, 0.931, 0.938, 0.945,
       0.953, 0.960, 0.967, 0.974, 0.981, 0.988, 0.995,
       0.475, 0.553, 0.950, 0.900, 0.380, 0.700,
       0.007, 0.022, 0.041, 0.057, 0.072, 0.091, 0.107, 0.122, 0.141,
       0.157, 0.172, 0.191, 0.207, 0.222, 0.241, 0.257, 0.272, 0.291,
       0.307, 0.322, 0.341, 0.357, 0.372, 0.391, 0.407, 0.422, 0.441,
       0.457, 0.472, 0.491, 0.507, 0.522, 0.541, 0.557, 0.572, 0.591,
       0.607, 0.622, 0.641, 0.657, 0.672, 0.691, 0.707, 0.722, 0.741,
       0.757, 0.772, 0.791, 0.807, 0.822, 0.841, 0.857, 0.872, 0.891,
       0.907, 0.922, 0.941, 0.957, 0.972, 0.991]
PM4 = [12.598, 12.618, 12.607, 12.628, 12.590, 12.615, 12.623,
       12.622, 12.596, 12.615, 12.605, 12.633, 12.602, 12.588,
       12.611, 12.635, 12.601, 12.622, 12.614, 12.596, 12.626,
       12.633, 12.610, 12.644, 12.603, 12.621, 12.627, 12.616,
       12.609, 12.629, 12.618, 12.639, 12.601, 12.626, 12.634,
       12.634, 12.608, 12.627, 12.617, 12.645, 12.614, 12.600,
       12.623, 12.647, 12.613, 12.634, 12.626, 12.608, 12.638,
       12.645, 12.622, 12.656, 12.615, 12.633, 12.639, 12.628,
       12.620, 12.640, 12.629, 12.650, 12.612, 12.637, 12.645,
       12.642, 12.616, 12.635, 12.625, 12.653, 12.622, 12.608,
       12.626, 12.650, 12.616, 12.637, 12.629, 12.611, 12.641,
       12.641, 12.618, 12.652, 12.611, 12.629, 12.635, 12.624,
       12.608, 12.628, 12.617, 12.638, 12.600, 12.625, 12.633,
       12.624, 12.598, 12.617, 12.607, 12.635, 12.604, 12.590,
       12.605, 12.629, 12.595, 12.616, 12.608, 12.590, 12.620,
       12.621, 12.598, 12.632, 12.591, 12.609, 12.615, 12.604,
       12.593, 12.613, 12.602, 12.623, 12.585, 12.610, 12.618,
       12.616, 12.590, 12.609, 12.599, 12.627, 12.596, 12.582,
       12.603, 12.627, 12.593, 12.614, 12.606, 12.588, 12.618,
       12.623, 12.600, 12.634, 12.593, 12.611, 12.617, 12.606,
       12.677, 12.678, 12.562, 12.570, 12.665, 12.660,
       12.588, 12.626, 12.638, 12.636, 12.586, 12.620, 12.605, 12.645, 12.595,
       12.638, 12.602, 12.590, 12.599, 12.637, 12.649, 12.648, 12.598, 12.632,
       12.617, 12.657, 12.607, 12.650, 12.614, 12.602, 12.610, 12.648, 12.660,
       12.656, 12.606, 12.640, 12.620, 12.660, 12.610, 12.646, 12.610, 12.598,
       12.598, 12.636, 12.648, 12.638, 12.588, 12.622, 12.599, 12.639, 12.589,
       12.626, 12.590, 12.578, 12.583, 12.621, 12.633, 12.630, 12.580, 12.614,
       12.597, 12.637, 12.587, 12.628, 12.592, 12.580]

NAMES = ["ASASSN-V J034826.11-700813.0", "ASASSN-V J064818.77-784625.8",
         "ASASSN-V J220902.64-673702.4", "ASASSN-V J181820.54-644625.1"]
PML = ["0.96", "0.99", "0.92", "0.87"]
PERIODS = ["1.179", "1.242", "1.728", "2.68"]
ERRS = [0.032, 0.033, 0.020, 0.019]

LC_T = [T1, T2, T3, T4]
LC_M = [M1, M2, M3, M4]
PH_P = [PH1, PH2, PH3, PH4]
PH_M = [PM1, PM2, PM3, PM4]

# axis settings (layout)
Y_RANGES = [(14.590, 14.2592), (14.266, 13.787), (13.0515, 12.8235), (12.734, 12.52)]
Y_TICK0 = [14.40, 14.00, 12.90, 12.6]
Y_DTICK = [0.15, 0.25, 0.15, 0.1]
Y_MINOR = [0.0375, 0.05, 0.0375, 0.02]
Y_FMT = [".2f", ".2f", ".2f", ".1f"]
ROW_PX = [(9.25, 304), (304, 604), (604, 902), (902, 1202)]
COL_PX = [(121, 595), (595, 1069)]
LW = 2.5

fig = go.Figure()

def px_x(px):
    return min(1.0, max(0.0, (px - OFF) / W))

def px_y(py):
    return min(1.0, max(0.0, 1 - (py - OFF) / H))

MARK = dict(size=5, color="rgba(30,30,30,0.72)", line=dict(width=0))

def err_style(v):
    return dict(type="constant", value=v, color="rgba(150,150,150,0.45)", thickness=2, width=0)

for r in range(4):
    nL = 2 * r + 1
    nR = 2 * r + 2
    fig.add_trace(go.Scatter(
        x=LC_T[r], y=LC_M[r], mode="markers", marker=MARK,
        error_y=err_style(ERRS[r]), showlegend=False, hoverinfo="skip",
        xaxis="x" if nL == 1 else f"x{nL}", yaxis="y" if nL == 1 else f"y{nL}"))
    ph = PH_P[r] + [p + 1 for p in PH_P[r]]
    pm = PH_M[r] + PH_M[r]
    fig.add_trace(go.Scatter(
        x=ph, y=pm, mode="markers", marker=MARK,
        error_y=err_style(ERRS[r]), showlegend=False, hoverinfo="skip",
        xaxis=f"x{nR}", yaxis=f"y{nR}"))

common = dict(showline=True, linecolor="black", linewidth=LW, mirror="allticks",
              ticks="inside", ticklen=8, tickwidth=2, tickcolor="black",
              showgrid=False, zeroline=False, automargin=False,
              tickfont=dict(family="DejaVu Sans", size=20, color="black"))

layout_axes = {}
for r in range(4):
    top, bot = ROW_PX[r]
    ydom = [px_y(bot - LW / 2), px_y(top + LW / 2)]
    for c in range(2):
        n = 2 * r + c + 1
        xl, xr = COL_PX[c]
        xk = "xaxis" if n == 1 else f"xaxis{n}"
        yk = "yaxis" if n == 1 else f"yaxis{n}"
        xanchor = "y" if n == 1 else f"y{n}"
        yanchor = "x" if n == 1 else f"x{n}"
        if c == 0:
            xax = dict(range=[7900, 9100], tick0=8000, dtick=200, tickformat="d",
                       minor=dict(tick0=8000, dtick=50, ticks="inside", ticklen=4,
                                  tickwidth=1.5, tickcolor="black", showgrid=False))
        else:
            xax = dict(range=[-0.1, 2.1], tick0=0, dtick=0.5, tickformat=".1f",
                       minor=dict(tick0=0, dtick=0.1, ticks="inside", ticklen=4,
                                  tickwidth=1.5, tickcolor="black", showgrid=False))
        xax.update(common)
        xax.update(domain=[px_x(xl + LW / 2), px_x(xr - LW / 2)], anchor=xanchor,
                   showticklabels=(r == 3))
        yax = dict(range=list(Y_RANGES[r]), tick0=Y_TICK0[r], dtick=Y_DTICK[r],
                   tickformat=Y_FMT[r],
                   minor=dict(tick0=Y_TICK0[r], dtick=Y_MINOR[r], ticks="inside",
                              ticklen=4, tickwidth=1.5, tickcolor="black", showgrid=False))
        yax.update(common)
        yax.update(domain=ydom, anchor=yanchor, showticklabels=(c == 0))
        layout_axes[xk] = xax
        layout_axes[yk] = yax

ann = []
SERIF = "Liberation Serif"
TOPS = [5, 304, 604, 902]
for r in range(4):
    top = TOPS[r]
    bot = ROW_PX[r][1]
    ann.append(dict(x=px_x(358), y=px_y(top + 31), xref="paper", yref="paper",
                    text=NAMES[r], showarrow=False, xanchor="center", yanchor="middle",
                    font=dict(family=SERIF, size=20, color="black")))
    ann.append(dict(x=px_x(1053), y=px_y(top + 31), xref="paper", yref="paper",
                    text=f"<b>ROT</b> | <i>P<sub>ML</sub> = {PML[r]}</i>", showarrow=False,
                    xanchor="right", yanchor="middle",
                    font=dict(family=SERIF, size=20, color="black")))
    ann.append(dict(x=px_x(620), y=px_y(bot - 30), xref="paper", yref="paper",
                    text="<i>Voted as a Rotational Variable</i>", showarrow=False,
                    xanchor="left", yanchor="middle",
                    font=dict(family=SERIF, size=20, color="black")))
    ann.append(dict(x=px_x(999), y=px_y(bot - 30), xref="paper", yref="paper",
                    text=f"<i>P = {PERIODS[r]}d</i>", showarrow=False,
                    xanchor="center", yanchor="middle",
                    font=dict(family=SERIF, size=20, color="black")))

ann.append(dict(x=px_x(358), y=px_y(1246), xref="paper", yref="paper",
                text="HJD-2450000 Days", showarrow=False, xanchor="center", yanchor="middle",
                font=dict(family="DejaVu Sans", size=35, color="black")))
ann.append(dict(x=px_x(832), y=px_y(1246), xref="paper", yref="paper",
                text="Phase", showarrow=False, xanchor="center", yanchor="middle",
                font=dict(family="DejaVu Sans", size=35, color="black")))
ann.append(dict(x=px_x(30), y=px_y(603), xref="paper", yref="paper",
                text="<span style='font-family:DejaVu Serif'><i>g</i></span>  Magnitude",
                textangle=-90, showarrow=False, xanchor="center", yanchor="middle",
                font=dict(family="DejaVu Sans", size=35, color="black")))

fig.update_layout(width=W, height=H, margin=dict(l=0, r=0, t=0, b=0, autoexpand=False),
                  paper_bgcolor="white", plot_bgcolor="white",
                  annotations=ann, showlegend=False, **layout_axes)

fig.write_html("out.html")
